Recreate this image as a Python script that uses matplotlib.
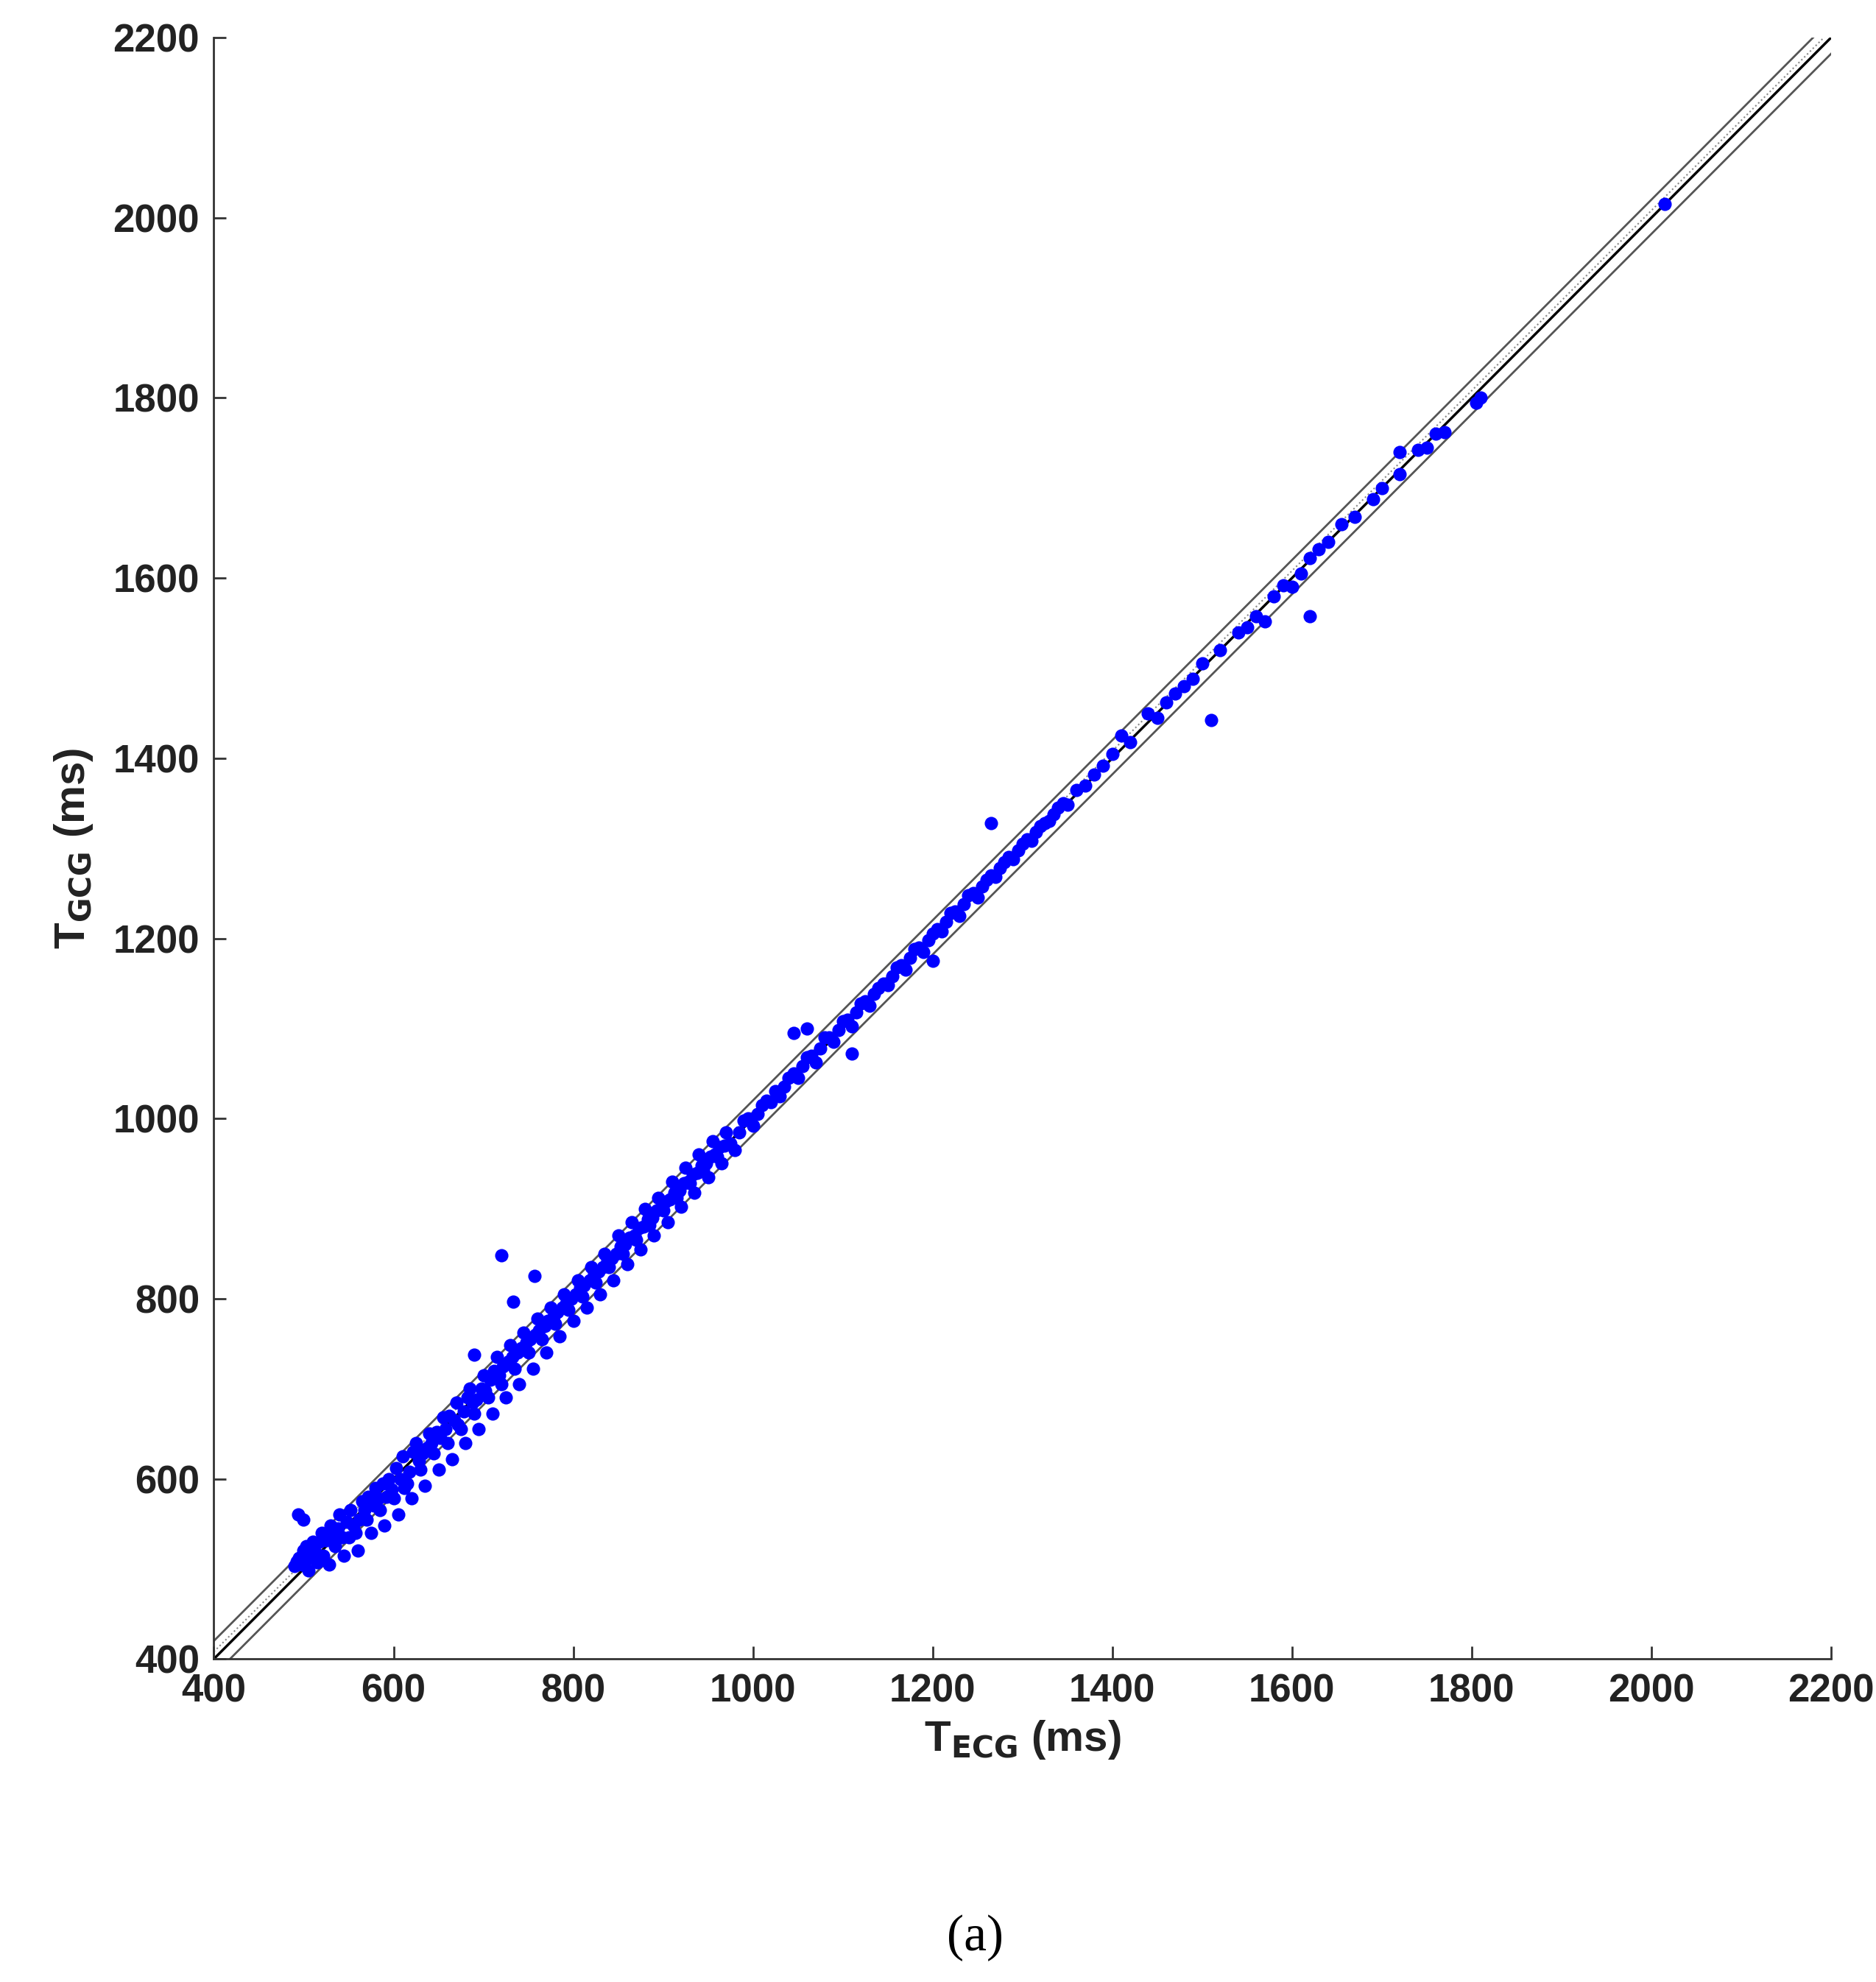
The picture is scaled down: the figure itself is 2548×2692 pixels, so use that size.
import numpy as np
import matplotlib.pyplot as plt

plt.rcParams['font.family'] = ['Liberation Sans', 'DejaVu Sans']

# dense band (x, y)
band = [
    (490,503),(495,512),(500,520),(505,498),(510,530),(515,507),(520,540),(522,515),(528,505),(530,548),
    (535,525),(540,560),(545,515),(550,535),(552,565),(558,540),(560,520),(565,575),(570,555),(575,540),
    (580,590),(585,565),(590,548),(595,600),(600,578),(605,560),(610,625),(615,595),(620,578),(625,640),
    (630,610),(635,592),(640,650),(645,628),(650,610),(655,668),(660,640),(665,622),(670,685),(675,655),
    (680,640),(685,700),(690,672),(695,655),(700,715),(705,690),(710,672),(715,735),(720,705),(725,690),
    (730,748),(735,722),(740,705),(745,762),(750,740),(755,722),(760,778),(765,755),(770,740),(775,790),
    (780,772),(785,758),(790,805),(795,788),(800,775),(805,820),(810,802),(815,790),(820,835),(825,818),
    (830,805),(835,850),(840,835),(845,820),(850,870),(855,850),(860,838),(865,885),(870,865),(875,855),
    (880,900),(885,882),(890,870),(895,912),(900,898),(905,885),(910,930),(915,912),(920,902),(925,945),
    (930,928),(935,918),(940,960),(945,943),(950,935),(955,975),(960,958),(965,950),(970,985),(975,972),
    (980,965),(990,998),(1000,992),(1010,1015),(1020,1018),(1030,1025),(1040,1045),(1050,1045),(1060,1068),
    (1070,1062),(1080,1090),(1090,1085),(1100,1108),(1110,1102),(1120,1128),(1130,1125),(1140,1145),
    (1150,1148),(1160,1168),(1170,1165),(1180,1188),(1190,1185),(1200,1205),(1210,1208),(1220,1228),
    (1230,1225),(1240,1248),(1250,1245),(1260,1265),(1270,1268),(1280,1285),(1290,1288),(1300,1305),
    (1310,1308),(1320,1325),(1330,1330),(1340,1345),(1350,1348),(1360,1365),(1370,1370),(1380,1382),
]
# second pass through the band, filling gaps
band2 = [
    (492,508),(498,505),(503,525),(507,512),(512,520),(518,530),(525,532),(532,538),(538,545),(543,535),
    (548,552),(555,548),(562,555),(568,565),(572,580),(578,570),(583,578),(588,595),(592,580),(598,588),
    (603,612),(608,600),(612,590),(618,608),(622,630),(628,620),(632,628),(638,635),(642,640),(648,652),
    (652,645),(658,655),(662,670),(668,665),(672,660),(678,675),(682,690),(688,685),(692,688),(698,700),
    (702,698),(708,710),(712,720),(718,715),(722,725),(728,730),(732,735),(738,740),(742,745),(748,752),
    (752,755),(758,760),(762,765),(768,770),(772,775),(778,780),(782,785),(788,790),(792,795),(798,800),
    (803,805),(808,812),(812,815),(818,820),(823,828),(828,830),(833,835),(838,842),(843,845),(848,850),
    (853,858),(858,860),(863,868),(868,870),(873,878),(878,880),(883,888),(888,890),(893,898),(898,900),
    (903,908),(908,910),(913,918),(918,920),(923,928),(928,930),(933,938),(938,940),(943,948),(948,950),
    (953,958),(958,960),(963,968),(968,970),(985,985),(995,1000),(1005,1005),(1015,1020),(1025,1030),
    (1035,1035),(1045,1050),(1055,1058),(1065,1070),(1075,1078),(1085,1090),(1095,1098),(1105,1110),
    (1115,1118),(1125,1130),(1135,1138),(1145,1150),(1155,1158),(1165,1170),(1175,1178),(1185,1190),
    (1195,1198),(1205,1210),(1215,1218),(1225,1230),(1235,1238),(1245,1250),(1255,1258),(1265,1270),
    (1275,1278),(1285,1290),(1295,1298),(1305,1310),(1315,1318),(1325,1328),(1335,1338),(1345,1350),
]
# sparse points and outliers
sparse = [
    (494,560),(500,555),(690,738),(720,848),(733,797),(757,825),(1045,1095),(1060,1100),(1110,1072),
    (1200,1175),(1265,1328),(1390,1392),(1400,1405),(1410,1425),(1420,1418),(1440,1450),(1450,1445),
    (1460,1462),(1470,1472),(1480,1480),(1490,1488),(1500,1505),(1510,1442),(1520,1520),(1540,1540),
    (1550,1545),(1560,1558),(1570,1552),(1580,1580),(1590,1592),(1600,1590),(1610,1605),(1620,1558),
    (1620,1622),(1630,1632),(1640,1640),(1655,1660),(1670,1668),(1690,1688),(1700,1700),(1720,1740),
    (1720,1715),(1740,1742),(1750,1745),(1760,1760),(1770,1762),(1805,1795),(1810,1800),(2015,2015),
]

pts = band + band2 + sparse
x = [p[0] for p in pts]
y = [p[1] for p in pts]

fig = plt.figure(figsize=(25.48, 26.92), dpi=100)
ax = fig.add_axes([0.114, 0.163, 0.862, 0.818])

xx = np.array([400, 2200])
ax.plot(xx, xx + 20, color='#555555', lw=2)
ax.plot(xx, xx + 8, color='#888888', lw=1.5, ls=':')
ax.plot(xx, xx, color='black', lw=2.5)
ax.plot(xx, xx - 18, color='#555555', lw=2)
ax.scatter(x, y, s=170, color='#0000ff', zorder=3, linewidths=0)

ax.set_xlim(400, 2200)
ax.set_ylim(400, 2200)
ax.set_xticks(range(400, 2201, 200))
ax.set_yticks(range(400, 2201, 200))
ax.spines['top'].set_visible(False)
ax.spines['right'].set_visible(False)
for s in ax.spines.values():
    s.set_linewidth(2)
    s.set_color('#333333')
ax.tick_params(direction='in', length=12, width=2, labelsize=38, colors='#333333', pad=14)
for lab in ax.get_xticklabels() + ax.get_yticklabels():
    lab.set_fontweight('bold')
    lab.set_color('#222222')
ax.set_xlabel(r'T$_{\mathbf{ECG}}$ (ms)', fontsize=42, fontweight='bold', color='#222222', labelpad=8)
ax.set_ylabel(r'T$_{\mathbf{GCG}}$ (ms)', fontsize=42, fontweight='bold', color='#222222', labelpad=18)

fig.text(0.52, 0.022, '(a)', fontsize=50, family='Liberation Serif', ha='center', va='center')

fig.savefig('out.png', dpi=100)
